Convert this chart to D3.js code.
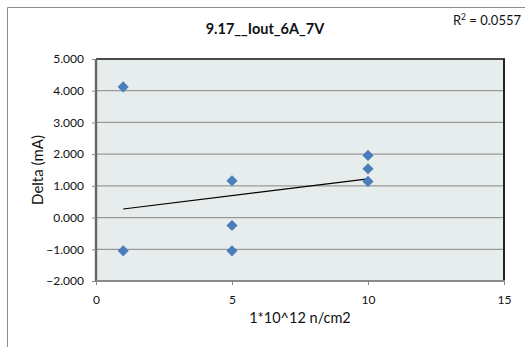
<!DOCTYPE html>
<html><head><meta charset="utf-8">
<script src="https://cdn.jsdelivr.net/npm/d3@7"></script>
<style>
html,body{margin:0;padding:0;background:#fff;}
svg{display:block;font-family:Lato,"Liberation Sans",sans-serif;}
</style></head>
<body>
<svg id="chart" width="525" height="347"></svg>
<script>
const title = "9.17__Iout_6A_7V";
const rSquaredLabel = "0.0557";
const xTitle = "1*10^12 n/cm2";
const yTitle = "Delta (mA)";
const xValues = [1, 1, 5, 5, 5, 10, 10, 10];
const yValues = [4.12, -1.05, 1.16, -0.25, -1.05, 1.96, 1.54, 1.14];
const trendX = [1, 10];
const trendY = [0.27, 1.22];
const xTicks = [0, 5, 10, 15];
const yTicks = [-2, -1, 0, 1, 2, 3, 4, 5];

const svg = d3.select("#chart");
const L = 96, R = 504, T = 59, B = 281;

// outer chart frame
svg.append("path").attr("d", "M7.5,347 V7.5 H525").attr("fill", "none")
  .attr("stroke", "#8c8c8c").attr("stroke-width", 1);

const x = d3.scaleLinear().domain([0, 15]).range([L, R]);
const y = d3.scaleLinear().domain([-2, 5]).range([B, T]);

svg.append("rect").attr("x", L).attr("y", T).attr("width", R - L).attr("height", B - T)
  .attr("fill", "#e7ecec");

// gridlines
svg.append("g").selectAll("line").data(yTicks.filter(d => d > -2 && d < 5)).join("line")
  .attr("x1", L).attr("x2", R).attr("y1", d => y(d)).attr("y2", d => y(d))
  .attr("stroke", "#9a9a9a").attr("stroke-width", 1.2);

// borders
svg.append("line").attr("x1", L).attr("x2", R + 1).attr("y1", T).attr("y2", T)
  .attr("stroke", "#111").attr("stroke-width", 1.6);
svg.append("line").attr("x1", R).attr("x2", R).attr("y1", T).attr("y2", B)
  .attr("stroke", "#222").attr("stroke-width", 2);

// axes
const yAxis = svg.append("g").attr("transform", `translate(${L},0)`)
  .call(d3.axisLeft(y).tickValues(yTicks).tickFormat(d3.format(".3f")).tickSize(4).tickPadding(8));
const xAxis = svg.append("g").attr("transform", `translate(0,${B})`)
  .call(d3.axisBottom(x).tickValues(xTicks).tickFormat(d3.format("d")).tickSize(4).tickPadding(10));
[yAxis, xAxis].forEach(a => {
  a.selectAll("text").attr("font-family", "Lato, sans-serif").attr("font-size", 12).attr("fill", "#111");
  a.selectAll(".tick line").attr("stroke", "#888");
});
yAxis.select(".domain").attr("stroke", "#666").attr("stroke-width", 2.4).attr("d", `M0,${B + 1}V${T}`);
xAxis.select(".domain").attr("stroke", "#8a8a8a").attr("stroke-width", 2.2).attr("d", `M${L},0H${R + 1}`);

// trend line
svg.append("line").attr("x1", x(trendX[0])).attr("y1", y(trendY[0]))
  .attr("x2", x(trendX[1])).attr("y2", y(trendY[1]))
  .attr("stroke", "#000").attr("stroke-width", 1.1);

// points
const pts = xValues.map((v, i) => [v, yValues[i]]);
const sym = d3.symbol().type(d3.symbolSquare).size(62);
svg.append("g").selectAll("path").data(pts).join("path")
  .attr("d", sym)
  .attr("transform", d => `translate(${x(d[0])},${y(d[1])}) rotate(45)`)
  .attr("fill", "#4a7ebb");

// titles
svg.append("text").attr("x", 265).attr("y", 34).attr("text-anchor", "middle")
  .attr("font-size", 14.5).attr("font-weight", "bold").attr("fill", "#111").text(title);
const r2 = svg.append("text").attr("x", 521).attr("y", 25).attr("text-anchor", "end")
  .attr("font-size", 13).attr("fill", "#111");
r2.append("tspan").text("R");
r2.append("tspan").attr("dy", -5).attr("font-size", 8.5).text("2");
r2.append("tspan").attr("dy", 5).text(" = " + rSquaredLabel);

svg.append("text").attr("transform", "translate(43,170) rotate(-90)").attr("text-anchor", "middle")
  .attr("font-size", 15).attr("fill", "#111").text(yTitle);
svg.append("text").attr("x", 300).attr("y", 323).attr("text-anchor", "middle")
  .attr("font-size", 14.5).attr("fill", "#111").text(xTitle);
</script>
</body></html>
